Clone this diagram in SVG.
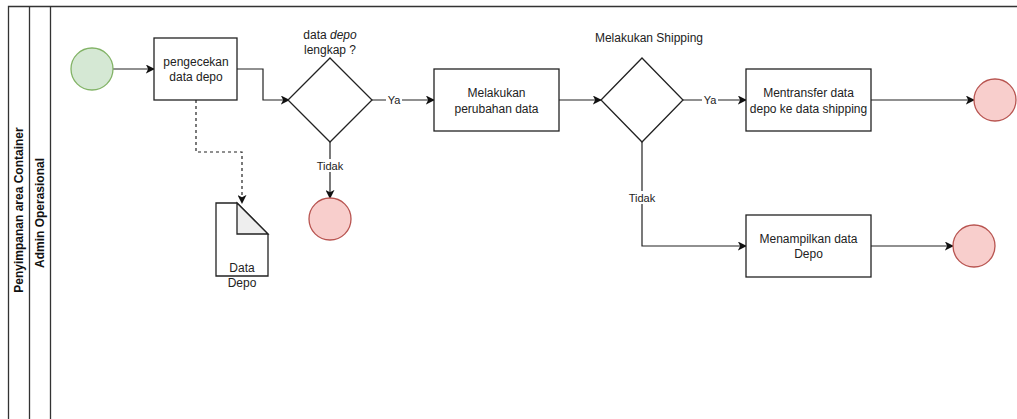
<svg xmlns="http://www.w3.org/2000/svg" width="1017" height="419" viewBox="0 0 1017 419">
  <style>
    .lane { fill: none; stroke: #333333; stroke-width: 1.3; }
    .box { fill: #ffffff; stroke: #222222; stroke-width: 1.3; }
    .start { fill: #d5e8d4; stroke: #82b366; stroke-width: 1.3; }
    .end { fill: #f8cecc; stroke: #b85450; stroke-width: 1.3; }
    .edge { fill: none; stroke: #222222; stroke-width: 1.2; }
    .dash { stroke-dasharray: 3 3; }
    .txt { font-family: "Liberation Sans", Arial, sans-serif; font-size: 12px; fill: #222222; text-anchor: middle; }
    .lbl { font-family: "Liberation Sans", Arial, sans-serif; font-size: 11px; fill: #222222; text-anchor: middle; }
    .title { font-family: "Liberation Sans", Arial, sans-serif; font-size: 12px; font-weight: bold; fill: #111111; text-anchor: middle; }
    .lblbg { fill: #ffffff; }
  </style>
  <defs>
    <marker id="arrow" viewBox="0 0 10 10" refX="9" refY="5" markerWidth="9" markerHeight="9" markerUnits="userSpaceOnUse" orient="auto">
      <path d="M0,0 L10,5 L0,10 L2.5,5 Z" fill="#111111"/>
    </marker>
  </defs>

  <!-- Pool and lane -->
  <g id="pool">
    <path class="lane" d="M8.5,420 V6.5 H1018"/>
    <line class="lane" x1="29.5" y1="6.5" x2="29.5" y2="420"/>
    <line class="lane" x1="50.5" y1="6.5" x2="50.5" y2="420"/>
    <text class="title" transform="translate(23,210) rotate(-90)">Penyimpanan area Container</text>
    <text class="title" transform="translate(44,213) rotate(-90)">Admin Operasional</text>
  </g>

  <!-- Connectors -->
  <g id="connectors">
    <line class="edge" x1="113" y1="69" x2="154" y2="69" marker-end="url(#arrow)"/>
    <polyline class="edge" points="237,69 263,69 263,100 289,100" marker-end="url(#arrow)"/>
    <polyline class="edge dash" points="196,100 196,152 242,152 242,203" marker-end="url(#arrow)"/>
    <line class="edge" x1="372" y1="100" x2="434" y2="100" marker-end="url(#arrow)"/>
    <line class="edge" x1="330" y1="142" x2="330" y2="198" marker-end="url(#arrow)"/>
    <line class="edge" x1="559" y1="100" x2="601" y2="100" marker-end="url(#arrow)"/>
    <line class="edge" x1="683" y1="100" x2="746" y2="100" marker-end="url(#arrow)"/>
    <line class="edge" x1="871" y1="100" x2="974" y2="100" marker-end="url(#arrow)"/>
    <polyline class="edge" points="642,142 642,246 746,246" marker-end="url(#arrow)"/>
    <line class="edge" x1="871" y1="246" x2="953" y2="246" marker-end="url(#arrow)"/>
    <!-- edge labels -->
    <rect class="lblbg" x="386" y="93" width="16" height="13"/>
    <text class="lbl" x="394" y="104">Ya</text>
    <rect class="lblbg" x="316" y="159" width="28" height="13"/>
    <text class="lbl" x="330" y="170">Tidak</text>
    <rect class="lblbg" x="702" y="93" width="16" height="13"/>
    <text class="lbl" x="710" y="104">Ya</text>
    <rect class="lblbg" x="628" y="191" width="28" height="13"/>
    <text class="lbl" x="642" y="202">Tidak</text>
  </g>

  <g id="start">
    <circle class="start" cx="92" cy="69" r="21"/>
  </g>

  <g id="cek-data">
    <rect class="box" x="154" y="38" width="83" height="62"/>
    <text class="txt" x="196" y="66">pengecekan</text>
    <text class="txt" x="196" y="81">data depo</text>
  </g>

  <g id="data-depo">
    <path class="box" d="M216,203 H237 L268,234 V276 H216 Z"/>
    <path d="M237,203 L268,234 H237 Z" fill="#eeeeee" stroke="#222222" stroke-width="1.3"/>
    <text class="txt" x="242" y="272" fill="#333333">Data</text>
    <text class="txt" x="242" y="287" fill="#333333">Depo</text>
  </g>

  <g id="cek-lengkap">
    <polygon class="box" points="330,58 372,100 330,142 288,100"/>
    <text class="txt" x="330" y="39">data <tspan font-style="italic">depo</tspan></text>
    <text class="txt" x="330" y="54">lengkap ?</text>
  </g>

  <g id="end-tidak-lengkap">
    <circle class="end" cx="330" cy="219" r="21"/>
  </g>

  <g id="perubahan-data">
    <rect class="box" x="434" y="69" width="125" height="62"/>
    <text class="txt" x="496.5" y="97">Melakukan</text>
    <text class="txt" x="496.5" y="113">perubahan data</text>
  </g>

  <g id="cek-shipping">
    <polygon class="box" points="642,58 683,100 642,142 601,100"/>
    <text class="txt" x="649" y="42">Melakukan Shipping</text>
  </g>

  <g id="transfer-data">
    <rect class="box" x="746" y="69" width="125" height="62"/>
    <text class="txt" x="808.5" y="97">Mentransfer data</text>
    <text class="txt" x="808.5" y="113">depo ke data shipping</text>
  </g>

  <g id="end-transfer">
    <circle class="end" cx="995" cy="100" r="21"/>
  </g>

  <g id="tampil-data">
    <rect class="box" x="746" y="215" width="125" height="62"/>
    <text class="txt" x="808.5" y="243">Menampilkan data</text>
    <text class="txt" x="808.5" y="258">Depo</text>
  </g>

  <g id="end-tampil">
    <circle class="end" cx="974" cy="246" r="21"/>
  </g>
</svg>
